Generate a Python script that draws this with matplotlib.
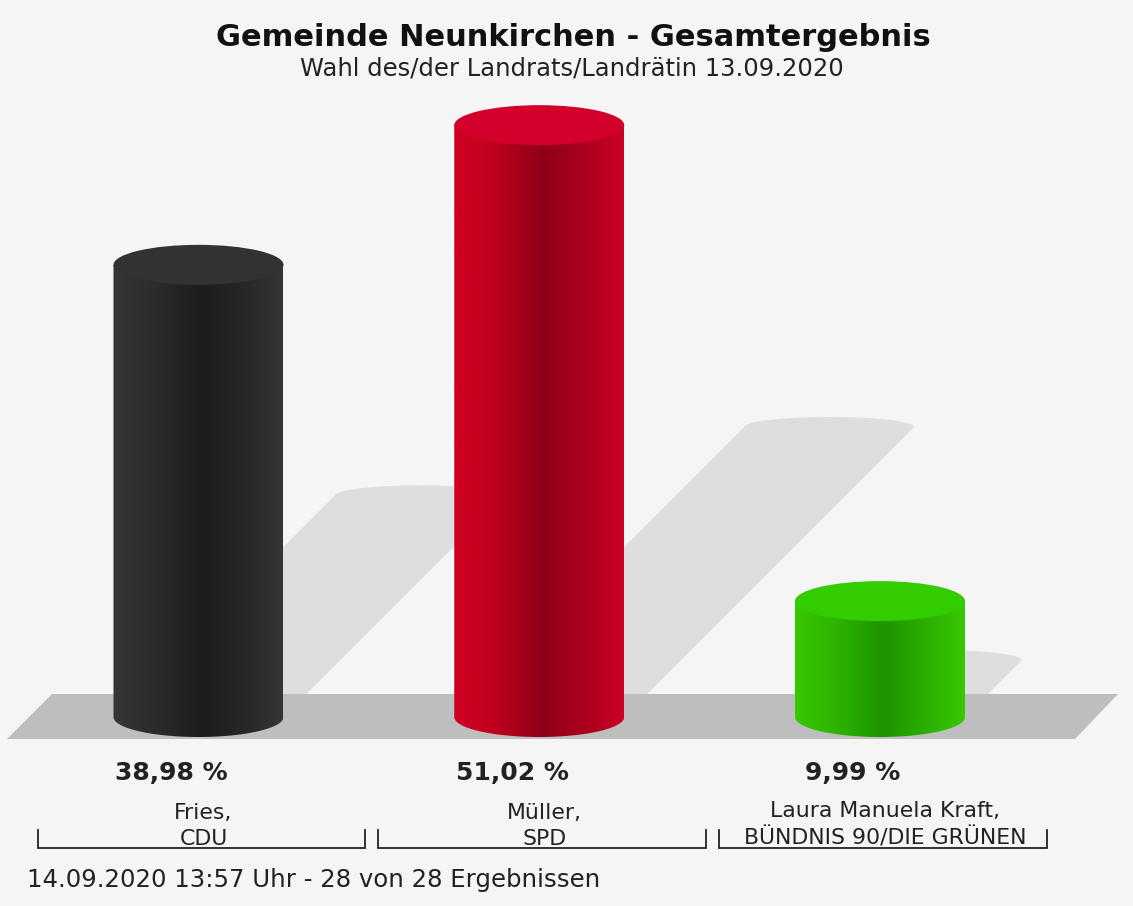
import numpy as np
import matplotlib.pyplot as plt
from matplotlib.patches import Ellipse, Polygon, PathPatch
from matplotlib.path import Path
from matplotlib.colors import LinearSegmentedColormap

plt.rcParams['font.family'] = ['DejaVu Sans']

# data
candidates = ['Fries,\nCDU', 'Müller,\nSPD', 'Laura Manuela Kraft,\nBÜNDNIS 90/DIE GRÜNEN']
values = [38.98, 51.02, 9.99]
labels = ['38,98 %', '51,02 %', '9,99 %']
body_colors = [
    ['#363636', '#2e2e2e', '#1d1d1d', '#272727', '#353535'],
    ['#d0001f', '#c4001f', '#8e0018', '#ac001f', '#cc0024'],
    ['#36c800', '#2fb800', '#1e9400', '#2cb000', '#36c800'],
]
cap_colors = ['#323232', '#d2002a', '#33cc00']

title = 'Gemeinde Neunkirchen - Gesamtergebnis'
subtitle = 'Wahl des/der Landrats/Landrätin 13.09.2020'
footer = '14.09.2020 13:57 Uhr - 28 von 28 Ergebnissen'

# layout: one category unit = PX_X pixels, one percent = PX_Y pixels
W, H = 1133, 906
PX_X = 340.75
PX_Y = 11.6
X0 = 198.5   # pixel x of first category
Y0 = 717     # pixel y of value 0


def px2x(px):
    return (px - X0) / PX_X


def px2y(py):
    return (Y0 - py) / PX_Y


fig = plt.figure(figsize=(W / 100, H / 100), dpi=100)
fig.patch.set_facecolor('#f5f5f5')
ax = fig.add_axes([0, 0, 1, 1])
ax.set_facecolor('#f5f5f5')
ax.axis('off')

rx = 85 / PX_X
ry = 20 / PX_Y
xs = np.arange(len(values))

# shadows
for cx, v in zip(xs, values):
    h = 0.49 * v
    s = h * PX_Y / PX_X
    t = np.linspace(np.pi, 0, 60)
    arc = np.column_stack([cx + s + rx * np.cos(t), h + 0.5 * ry * np.sin(t)])
    pts = np.vstack([[cx - rx, 0], arc, [cx + rx, 0]])
    ax.add_patch(Polygon(pts, closed=True, fc='#dedede', ec='none', zorder=1))

# floor
floor = [(px2x(7), px2y(739)), (px2x(52), px2y(694)),
         (px2x(1118), px2y(694)), (px2x(1075), px2y(739))]
ax.add_patch(Polygon(floor, closed=True, fc='#bebebe', ec='none', zorder=2))

# cylinders
grad = np.linspace(0, 1, 256)[None, :]
for cx, v, cols, capc in zip(xs, values, body_colors, cap_colors):
    t = np.linspace(0, -np.pi, 80)
    bottom = np.column_stack([cx + rx * np.cos(t), ry * np.sin(t)])
    pts = np.vstack([[cx - rx, v], [cx + rx, v], bottom, [cx - rx, v]])
    path = Path(pts)
    patch = PathPatch(path, fc='none', ec='none', zorder=3)
    ax.add_patch(patch)
    cmap = LinearSegmentedColormap.from_list('c', list(zip([0, 0.2, 0.52, 0.78, 1.0], cols)))
    im = ax.imshow(grad, cmap=cmap, aspect='auto', zorder=3,
                   extent=[cx - rx, cx + rx, -ry, v], interpolation='bilinear')
    im.set_clip_path(patch)
    ax.add_patch(Ellipse((cx, v), 2 * rx, 2 * ry, fc=capc, ec='none', zorder=4))

ax.set_xlim(px2x(0), px2x(W))
ax.set_ylim(px2y(H), px2y(0))

# texts
ax.text(px2x(W / 2 + 7), px2y(46), title, ha='center', va='baseline',
        fontsize=22, fontweight='bold', color='#111111')
ax.text(px2x(W / 2 + 5), px2y(76), subtitle, ha='center', va='baseline',
        fontsize=17.5, color='#222222')

for cx, lab, cand in zip(xs, labels, candidates):
    ax.text(cx - 27 / PX_X, px2y(780), lab, ha='center', va='baseline',
            fontsize=18, fontweight='bold', color='#222222')
    ax.text(cx + 5 / PX_X, px2y(845), cand, ha='center', va='baseline',
            fontsize=15.8, color='#222222', linespacing=1.38)
    bl = cx + (3 - 164) / PX_X
    br = cx + (3 + 164) / PX_X
    ax.plot([bl, bl, br, br], [px2y(830), px2y(848), px2y(848), px2y(830)],
            color='#222222', lw=1.3, solid_joinstyle='miter', zorder=5)

ax.text(px2x(27), px2y(887), footer, ha='left', va='baseline',
        fontsize=17.6, color='#222222')

fig.savefig('out.png', dpi=100, facecolor=fig.get_facecolor())
